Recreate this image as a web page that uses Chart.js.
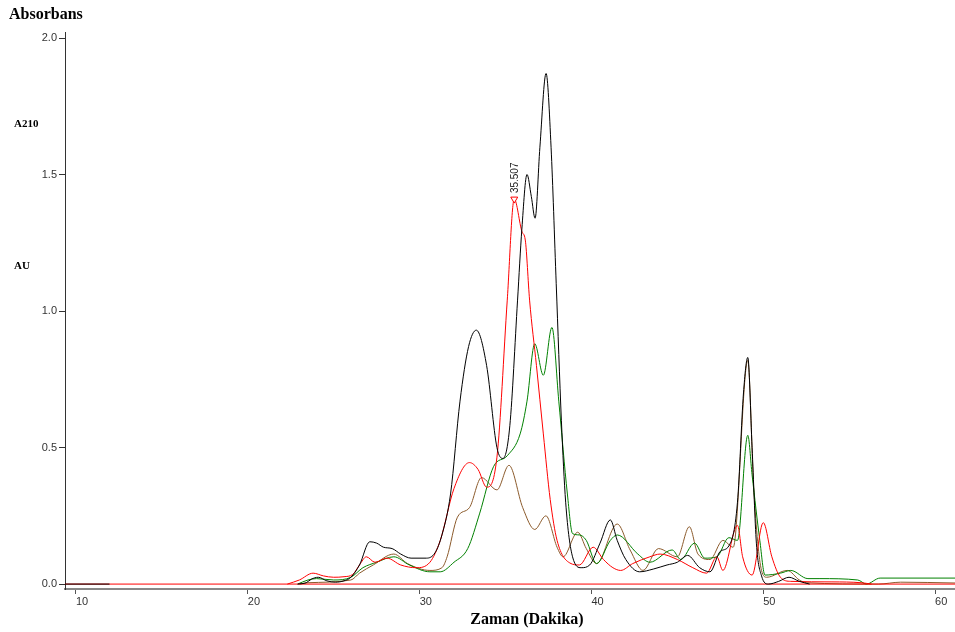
<!DOCTYPE html>
<html>
<head>
<meta charset="utf-8">
<script src="https://cdn.jsdelivr.net/npm/chart.js@4/dist/chart.umd.min.js"></script>
<style>
  html, body { margin: 0; padding: 0; background: #fff; }
  canvas { display: block; }
</style>
</head>
<body>
<canvas id="grafico" width="955" height="632"></canvas>
<script>
const xTicks = [10, 20, 30, 40, 50, 60];
const yTicks = [0, 0.5, 1.0, 1.5, 2.0];

// traza negra
const negroT = [9.36, 11.95, 12.0, 22.9, 23.4, 23.7, 24.1, 24.6, 25.1, 25.6, 26.0, 26.5, 27.1, 27.5, 27.9, 28.4, 28.9, 29.5, 30.4, 30.9,
  31.3, 31.8, 32.35, 32.85, 33.3, 33.9, 34.5, 34.85, 35.25, 35.7, 35.95, 36.25, 36.5, 36.72, 37.0, 37.36, 37.65, 37.95, 38.25, 38.5,
  38.9, 39.4, 39.9, 40.5, 41.1, 41.5, 42.0, 42.8, 43.6, 44.4, 45.0, 45.6, 46.3, 46.9, 47.5, 48.0, 48.5, 48.85, 49.1, 49.35,
  49.6, 49.9, 50.3, 50.9, 51.5, 52.1, 52.7];
const negroY = [0, 0, null, 0, 0.005, 0.018, 0.025, 0.012, 0.007, 0.012, 0.025, 0.07, 0.155, 0.15, 0.135, 0.13, 0.11, 0.095, 0.095, 0.115,
  0.18, 0.33, 0.67, 0.87, 0.93, 0.8, 0.5, 0.46, 0.58, 1.04, 1.3, 1.5, 1.42, 1.34, 1.6, 1.87, 1.6, 1.1, 0.6, 0.3,
  0.1, 0.06, 0.07, 0.15, 0.235, 0.16, 0.09, 0.045, 0.055, 0.07, 0.08, 0.105, 0.06, 0.045, 0.12, 0.14, 0.3, 0.7, 0.83, 0.5,
  0.15, 0.03, 0.0, 0.01, 0.025, 0.01, 0];

// traza roja
const rojoT = [22.3, 23.0, 23.8, 24.4, 25.0, 25.6, 26.1, 26.5, 26.9, 27.4, 28.1, 28.9, 29.8, 30.6, 31.2, 32.0, 32.9, 33.4, 33.9, 34.5,
  35.1, 35.507, 35.96, 36.15, 36.4, 36.8, 37.2, 37.6, 38.0, 38.75, 39.3, 40.1, 40.7, 41.25, 41.7, 42.4, 43.4, 44.0, 45.0, 45.9,
  46.7, 47.3, 47.65, 48.5, 48.8, 49.35, 50.0, 50.5, 51.0, 51.6, 54.0, 55.7, 56.3];
const rojoY = [0, 0.015, 0.04, 0.03, 0.025, 0.027, 0.035, 0.07, 0.1, 0.08, 0.095, 0.07, 0.06, 0.08, 0.16, 0.35, 0.445, 0.42, 0.355, 0.465,
  1.04, 1.41, 1.29, 1.26, 1.04, 0.8, 0.55, 0.31, 0.16, 0.077, 0.07, 0.135, 0.09, 0.06, 0.05, 0.075, 0.1, 0.11, 0.09, 0.06,
  0.04, 0.1, 0.05, 0.215, 0.1, 0.033, 0.225, 0.1, 0.025, 0.01, 0.008, 0.005, 0];
const picoIdx = 21; // 35.507

// línea base roja
const baseT = [9.36, 61.16];
const baseY = [0, 0];

// traza verde
const verdeT = [22.9, 23.5, 24.0, 25.0, 26.0, 26.7, 27.5, 28.5, 29.4, 30.6, 31.2, 32.0, 32.8, 33.5, 34.3, 35.1, 35.85, 36.25, 36.7, 37.2,
  37.7, 38.1, 38.6, 38.9, 39.3, 39.7, 40.3, 41.1, 41.5, 42.7, 43.4, 44.7, 45.2, 46.0, 46.6, 47.3, 48.0, 48.5, 49.1, 49.35,
  49.8, 50.1, 51.0, 51.6, 52.6, 53.3, 55.5, 56.0, 56.8, 61.16];
const verdeY = [0, 0.015, 0.02, 0.015, 0.025, 0.06, 0.08, 0.1, 0.07, 0.045, 0.045, 0.08, 0.13, 0.26, 0.43, 0.47, 0.55, 0.67, 0.88, 0.765,
  0.94, 0.67, 0.33, 0.185, 0.18, 0.16, 0.075, 0.16, 0.18, 0.11, 0.08, 0.125, 0.09, 0.15, 0.095, 0.1, 0.17, 0.16, 0.545, 0.4,
  0.16, 0.033, 0.04, 0.05, 0.02, 0.02, 0.015, 0, 0.022, 0.022];

// traza marrón
const marronT = [23.0, 23.5, 26.0, 26.5, 27.3, 28.5, 29.3, 30.6, 31.3, 31.6, 32.2, 32.9, 33.6, 34.5, 35.2, 36.0, 36.7, 37.35, 38.0, 38.35,
  39.2, 39.7, 40.3, 41.5, 42.25, 43.0, 43.9, 45.0, 45.7, 46.2, 46.9, 47.65, 48.25, 49.1, 49.45, 49.9, 50.2, 51.4, 52.1, 52.5,
  56.7, 58.0, 61.16];
const marronY = [0, 0.005, 0.015, 0.04, 0.07, 0.11, 0.075, 0.05, 0.06, 0.1, 0.245, 0.28, 0.39, 0.345, 0.435, 0.28, 0.2, 0.25, 0.135, 0.1,
  0.19, 0.13, 0.075, 0.22, 0.125, 0.05, 0.13, 0.1, 0.21, 0.11, 0.09, 0.16, 0.135, 0.82, 0.345, 0.05, 0.025, 0.05, 0.015, 0.005,
  0, 0.007, 0.004];

const pares = (t, v) => t.map((x, i) => ({ x, y: v[i] }));

// ───────────────────────── textos fijos y etiqueta del pico
const textos = {
  id: 'textos',
  afterDatasetsDraw (chart) {
    const c = chart.ctx;
    c.save();
    // etiqueta del pico
    const p = chart.getDatasetMeta(1).data[picoIdx];
    c.translate(p.x + 1, p.y - 6);
    c.rotate(-Math.PI / 2);
    c.font = '10px "Liberation Sans", Arial, sans-serif';
    c.fillStyle = '#222';
    c.textAlign = 'left';
    c.textBaseline = 'middle';
    c.fillText(rojoT[picoIdx].toFixed(3), 0, 0);
    c.restore();

    c.save();
    c.fillStyle = '#000';
    c.textBaseline = 'alphabetic';
    c.font = 'bold 16px "Liberation Serif", "Times New Roman", serif';
    c.fillText('Absorbans', 9, 19);
    c.font = 'bold 11px "Liberation Serif", "Times New Roman", serif';
    c.fillText('A210', 14, 127);
    c.fillText('AU', 14, 269);
    c.font = 'bold 16px "Liberation Serif", "Times New Roman", serif';
    c.textAlign = 'center';
    c.fillText('Zaman (Dakika)', 527, 624);
    c.restore();
  }
};

const linea = (color, data, order) => ({
  data, borderColor: color, borderWidth: 1, pointRadius: 0,
  cubicInterpolationMode: 'monotone', fill: false, order
});

const dsRojo = linea('#ff0000', pares(rojoT, rojoY), 1);
dsRojo.pointRadius = ctx => (ctx.dataIndex === picoIdx ? 4 : 0);
dsRojo.pointStyle = 'triangle';
dsRojo.rotation = 180;
dsRojo.pointBackgroundColor = '#ffffff';
dsRojo.pointBorderColor = '#ff0000';
dsRojo.pointBorderWidth = 1;

const tickFont = { family: '"Liberation Sans", Arial, sans-serif', size: 11 };

new Chart(document.getElementById('grafico'), {
  type: 'line',
  data: {
    datasets: [
      linea('#000000', pares(negroT, negroY), 0),
      dsRojo,
      linea('#ff0000', pares(baseT, baseY), 2),
      linea('#008000', pares(verdeT, verdeY), 3),
      linea('#8b5a2b', pares(marronT, marronY), 4)
    ]
  },
  options: {
    responsive: false,
    animation: false,
    layout: { padding: { top: 32, right: 0, left: 0, bottom: 0 } },
    plugins: { legend: { display: false }, tooltip: { enabled: false }, title: { display: false } },
    scales: {
      x: {
        type: 'linear', min: 9.36, max: 61.16,
        afterBuildTicks: s => { s.ticks = xTicks.map(value => ({ value })); },
        afterFit: s => { s.height = 43; },
        ticks: { align: 'start', font: tickFont, color: '#333', padding: 1, maxRotation: 0, autoSkip: false },
        grid: { drawOnChartArea: false, drawTicks: true, tickLength: 5, color: '#555' },
        border: { color: '#888', width: 2 }
      },
      y: {
        type: 'linear', min: -0.018, max: 2.022,
        afterBuildTicks: s => { s.ticks = yTicks.map(value => ({ value })); },
        afterFit: s => { s.width = 65; },
        ticks: { font: tickFont, color: '#333', padding: 2, callback: v => v.toFixed(1) },
        grid: { drawOnChartArea: false, drawTicks: true, tickLength: 6, color: '#333' },
        border: { color: '#333', width: 1 }
      }
    }
  },
  plugins: [textos]
});
</script>
</body>
</html>
